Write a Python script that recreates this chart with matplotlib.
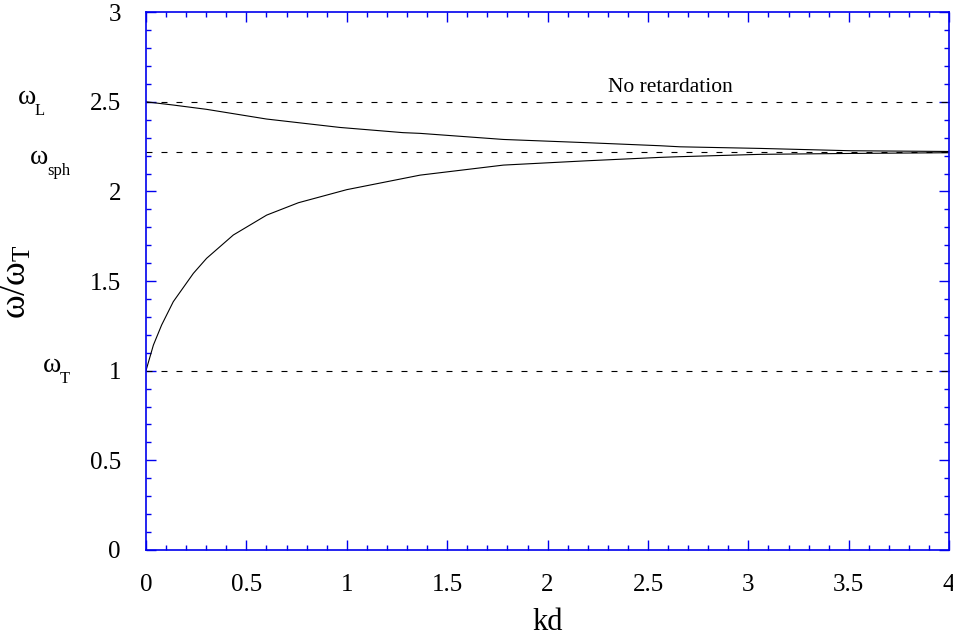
import numpy as np
import matplotlib
matplotlib.use('Agg')
import matplotlib.pyplot as plt
from matplotlib.ticker import MultipleLocator, FuncFormatter

plt.rcParams['font.family'] = ['Liberation Serif', 'DejaVu Serif']
plt.rcParams['mathtext.fontset'] = 'custom'
plt.rcParams['mathtext.rm'] = 'Liberation Serif'
plt.rcParams['mathtext.it'] = 'Liberation Serif'
plt.rcParams['lines.scale_dashes'] = False

# branches (kd, omega/omega_T)
kd_upper = [0.0, 0.136, 0.302, 0.60, 0.966, 1.28, 1.365, 1.78, 2.195, 2.56, 2.66, 3.06, 3.51, 4.0]
w_upper = [2.5, 2.482, 2.458, 2.404, 2.357, 2.328, 2.324, 2.290, 2.272, 2.255, 2.249, 2.240, 2.227, 2.223]

kd_lower = [0.0, 0.037, 0.078, 0.136, 0.236, 0.302, 0.435, 0.601, 0.759, 1.0, 1.365,
            1.78, 2.195, 2.56, 2.66, 3.06, 3.51, 4.0]
w_lower = [1.0, 1.143, 1.255, 1.385, 1.543, 1.627, 1.757, 1.868, 1.937, 2.01, 2.091,
           2.147, 2.171, 2.19, 2.194, 2.207, 2.212, 2.216]

w_L = 2.5
w_sph = 2.222
w_T = 1.0

fig = plt.figure(figsize=(9.54, 6.41), dpi=100)
ax = fig.add_axes([0.153, 0.142, 0.842, 0.839])

ax.plot(kd_upper, w_upper, color='k', lw=0.8)
ax.plot(kd_lower, w_lower, color='k', lw=0.8)
for level in (w_L, w_sph, w_T):
    ax.plot([0, 4], [level, level], color='k', lw=0.8, linestyle=(0, (4.3, 6.5)))

ax.set_xlim(0, 4)
ax.set_ylim(0, 3)
ax.xaxis.set_major_locator(MultipleLocator(0.5))
ax.xaxis.set_minor_locator(MultipleLocator(0.1))
ax.yaxis.set_major_locator(MultipleLocator(0.5))
ax.yaxis.set_minor_locator(MultipleLocator(0.1))
ax.xaxis.set_major_formatter(FuncFormatter(lambda v, p: f'{v:g}'))
ax.yaxis.set_major_formatter(FuncFormatter(lambda v, p: f'{v:g}'))

blue = '#0000ee'
for s in ax.spines.values():
    s.set_color(blue)
    s.set_linewidth(1.2)
ax.tick_params(which='both', direction='in', top=True, right=True, color=blue,
               labelsize=18, width=1.0)
ax.tick_params(axis='y', which='major', length=7.5, pad=18)
ax.tick_params(axis='x', which='major', length=7.5, pad=17)
ax.tick_params(which='minor', length=3.8)

ax.set_xlabel('kd', fontsize=22, labelpad=9)
ax.set_ylabel(r'$\mathrm{\omega/\omega}_{\mathrm{T}}$', fontsize=26, labelpad=40)

ax.text(2.61, 2.58, 'No retardation', fontsize=15.5, ha='center', va='center')

# frequency markers on the left: symbol plus a small low subscript
markers = [('L', 18, 97), ('sph', 30, 157), ('T', 43, 365)]
for sub, px, py in markers:
    fig.text(px / 954, 1 - py / 641, '\u03c9', fontsize=20, ha='left', va='center')
    fig.text((px + 17) / 954, 1 - (py + 14) / 641, sub, fontsize=12, ha='left', va='center')

fig.savefig('out.png', dpi=100)
